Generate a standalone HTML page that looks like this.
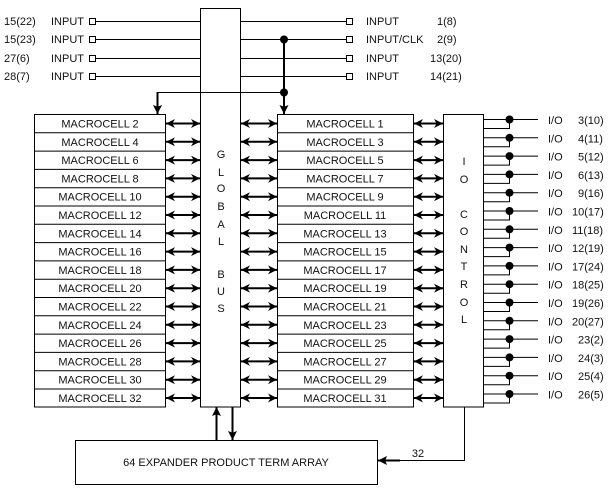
<!DOCTYPE html>
<html><head><meta charset="utf-8"><style>
html,body{margin:0;padding:0;background:#fff;}
svg{display:block;}
text{font-family:"Liberation Sans",sans-serif;font-size:11px;fill:#111;}
</style></head><body>
<svg width="611" height="489" viewBox="0 0 611 489" xmlns="http://www.w3.org/2000/svg">
<defs>
<marker id="ah" viewBox="0 0 10 10" refX="10" refY="5" markerWidth="12" markerHeight="9" markerUnits="userSpaceOnUse" orient="auto-start-reverse"><path d="M0,0 L10,5 L0,10 L3,5 z" fill="#000"/></marker>
<marker id="ad" viewBox="0 0 10 10" refX="10" refY="5" markerWidth="11" markerHeight="9" markerUnits="userSpaceOnUse" orient="auto"><path d="M0,0 L10,5 L0,10 L2,5 z" fill="#000"/></marker>
</defs>
<g stroke="#000" stroke-width="1" fill="none">
<rect x="200.5" y="8.5" width="40" height="398.5" fill="#fff"/>
<line x1="96" y1="21.5" x2="200" y2="21.5"/><line x1="96" y1="39.5" x2="200" y2="39.5"/>
<line x1="96" y1="58.5" x2="200" y2="58.5"/><line x1="96" y1="76.5" x2="200" y2="76.5"/>
<rect x="89.5" y="18.5" width="6" height="6"/><rect x="89.5" y="36.5" width="6" height="6"/>
<rect x="89.5" y="55.5" width="6" height="6"/><rect x="89.5" y="73.5" width="6" height="6"/>
<line x1="241" y1="21.5" x2="346" y2="21.5"/><line x1="241" y1="39.5" x2="346" y2="39.5"/>
<line x1="241" y1="58.5" x2="346" y2="58.5"/><line x1="241" y1="76.5" x2="346" y2="76.5"/>
<rect x="346.5" y="18.5" width="6" height="6"/><rect x="346.5" y="36.5" width="6" height="6"/>
<rect x="346.5" y="55.5" width="6" height="6"/><rect x="346.5" y="73.5" width="6" height="6"/>
<line x1="284" y1="39.5" x2="284" y2="114" stroke-width="2" marker-end="url(#ad)"/>
<line x1="157" y1="92.5" x2="284" y2="92.5"/>
<line x1="157.5" y1="92" x2="157.5" y2="114" stroke-width="2" marker-end="url(#ad)"/>
<rect x="34.5" y="114.5" width="131" height="292.5" fill="#fff"/>
<rect x="277.5" y="114.5" width="136" height="292.5" fill="#fff"/>
<path d="M34 132.8H166M34 151.1H166M34 169.4H166M34 187.7H166M34 206H166M34 224.3H166M34 242.6H166M34 260.9H166M34 279.2H166M34 297.5H166M34 315.8H166M34 334.1H166M34 352.4H166M34 370.7H166M34 389H166"/>
<path d="M277 132.8H414M277 151.1H414M277 169.4H414M277 187.7H414M277 206H414M277 224.3H414M277 242.6H414M277 260.9H414M277 279.2H414M277 297.5H414M277 315.8H414M277 334.1H414M277 352.4H414M277 370.7H414M277 389H414"/>
<rect x="443.5" y="114.5" width="40" height="292.5" fill="#fff"/>
<rect x="75.5" y="440.5" width="302" height="44" fill="#fff"/>
<line x1="216.5" y1="440" x2="216.5" y2="407" stroke-width="2" marker-end="url(#ad)"/>
<line x1="232.5" y1="407" x2="232.5" y2="440" stroke-width="2" marker-end="url(#ad)"/>
<path d="M464.5 407V460.5H380"/>
<line x1="400" y1="460.5" x2="378" y2="460.5" stroke-width="2" marker-end="url(#ad)"/>
</g>
<g stroke="#000" stroke-width="2" marker-start="url(#ah)" marker-end="url(#ah)">
<line x1="166" y1="123.5" x2="200" y2="123.5"/><line x1="241" y1="123.5" x2="277" y2="123.5"/><line x1="414" y1="123.5" x2="443" y2="123.5"/>
<line x1="166" y1="141.8" x2="200" y2="141.8"/><line x1="241" y1="141.8" x2="277" y2="141.8"/><line x1="414" y1="141.8" x2="443" y2="141.8"/>
<line x1="166" y1="160.1" x2="200" y2="160.1"/><line x1="241" y1="160.1" x2="277" y2="160.1"/><line x1="414" y1="160.1" x2="443" y2="160.1"/>
<line x1="166" y1="178.4" x2="200" y2="178.4"/><line x1="241" y1="178.4" x2="277" y2="178.4"/><line x1="414" y1="178.4" x2="443" y2="178.4"/>
<line x1="166" y1="196.7" x2="200" y2="196.7"/><line x1="241" y1="196.7" x2="277" y2="196.7"/><line x1="414" y1="196.7" x2="443" y2="196.7"/>
<line x1="166" y1="215" x2="200" y2="215"/><line x1="241" y1="215" x2="277" y2="215"/><line x1="414" y1="215" x2="443" y2="215"/>
<line x1="166" y1="233.3" x2="200" y2="233.3"/><line x1="241" y1="233.3" x2="277" y2="233.3"/><line x1="414" y1="233.3" x2="443" y2="233.3"/>
<line x1="166" y1="251.6" x2="200" y2="251.6"/><line x1="241" y1="251.6" x2="277" y2="251.6"/><line x1="414" y1="251.6" x2="443" y2="251.6"/>
<line x1="166" y1="269.9" x2="200" y2="269.9"/><line x1="241" y1="269.9" x2="277" y2="269.9"/><line x1="414" y1="269.9" x2="443" y2="269.9"/>
<line x1="166" y1="288.2" x2="200" y2="288.2"/><line x1="241" y1="288.2" x2="277" y2="288.2"/><line x1="414" y1="288.2" x2="443" y2="288.2"/>
<line x1="166" y1="306.5" x2="200" y2="306.5"/><line x1="241" y1="306.5" x2="277" y2="306.5"/><line x1="414" y1="306.5" x2="443" y2="306.5"/>
<line x1="166" y1="324.8" x2="200" y2="324.8"/><line x1="241" y1="324.8" x2="277" y2="324.8"/><line x1="414" y1="324.8" x2="443" y2="324.8"/>
<line x1="166" y1="343.1" x2="200" y2="343.1"/><line x1="241" y1="343.1" x2="277" y2="343.1"/><line x1="414" y1="343.1" x2="443" y2="343.1"/>
<line x1="166" y1="361.4" x2="200" y2="361.4"/><line x1="241" y1="361.4" x2="277" y2="361.4"/><line x1="414" y1="361.4" x2="443" y2="361.4"/>
<line x1="166" y1="379.7" x2="200" y2="379.7"/><line x1="241" y1="379.7" x2="277" y2="379.7"/><line x1="414" y1="379.7" x2="443" y2="379.7"/>
<line x1="166" y1="398" x2="200" y2="398"/><line x1="241" y1="398" x2="277" y2="398"/><line x1="414" y1="398" x2="443" y2="398"/>
</g>
<g stroke="#000" stroke-width="1" fill="none">
<path d="M483 119.5H538M483 128.5H509.5V119"/>
<path d="M483 137.8H538M483 146.8H509.5V137"/>
<path d="M483 156.1H538M483 165.1H509.5V156"/>
<path d="M483 174.4H538M483 183.4H509.5V174"/>
<path d="M483 192.7H538M483 201.7H509.5V192"/>
<path d="M483 211H538M483 220H509.5V211"/>
<path d="M483 229.3H538M483 238.3H509.5V229"/>
<path d="M483 247.6H538M483 256.6H509.5V247"/>
<path d="M483 265.9H538M483 274.9H509.5V265"/>
<path d="M483 284.2H538M483 293.2H509.5V284"/>
<path d="M483 302.5H538M483 311.5H509.5V302"/>
<path d="M483 320.8H538M483 329.8H509.5V320"/>
<path d="M483 339.1H538M483 348.1H509.5V339"/>
<path d="M483 357.4H538M483 366.4H509.5V357"/>
<path d="M483 375.7H538M483 384.7H509.5V375"/>
<path d="M483 394H538M483 403H509.5V394"/>
</g>
<g fill="#000">
<circle cx="284" cy="39.5" r="4"/><circle cx="284" cy="92.5" r="4"/>
<circle cx="509.5" cy="119.5" r="4"/><circle cx="509.5" cy="137.8" r="4"/><circle cx="509.5" cy="156.1" r="4"/><circle cx="509.5" cy="174.4" r="4"/>
<circle cx="509.5" cy="192.7" r="4"/><circle cx="509.5" cy="211" r="4"/><circle cx="509.5" cy="229.3" r="4"/><circle cx="509.5" cy="247.6" r="4"/>
<circle cx="509.5" cy="265.9" r="4"/><circle cx="509.5" cy="284.2" r="4"/><circle cx="509.5" cy="302.5" r="4"/><circle cx="509.5" cy="320.8" r="4"/>
<circle cx="509.5" cy="339.1" r="4"/><circle cx="509.5" cy="357.4" r="4"/><circle cx="509.5" cy="375.7" r="4"/><circle cx="509.5" cy="394" r="4"/>
</g>
<text x="4" y="25">15(22)</text><text x="51" y="25">INPUT</text>
<text x="4" y="43">15(23)</text><text x="51" y="43">INPUT</text>
<text x="4" y="62">27(6)</text><text x="51" y="62">INPUT</text>
<text x="4" y="80">28(7)</text><text x="51" y="80">INPUT</text>
<text x="366" y="25">INPUT</text><text x="437" y="25">1(8)</text>
<text x="366" y="43">INPUT/CLK</text><text x="437" y="43">2(9)</text>
<text x="366" y="62">INPUT</text><text x="430" y="62">13(20)</text>
<text x="366" y="80">INPUT</text><text x="430" y="80">14(21)</text>
<g text-anchor="middle">
<text x="100" y="127.5">MACROCELL 2</text><text x="345" y="127.5">MACROCELL 1</text>
<text x="100" y="145.8">MACROCELL 4</text><text x="345" y="145.8">MACROCELL 3</text>
<text x="100" y="164.1">MACROCELL 6</text><text x="345" y="164.1">MACROCELL 5</text>
<text x="100" y="182.4">MACROCELL 8</text><text x="345" y="182.4">MACROCELL 7</text>
<text x="100" y="200.7">MACROCELL 10</text><text x="345" y="200.7">MACROCELL 9</text>
<text x="100" y="219">MACROCELL 12</text><text x="345" y="219">MACROCELL 11</text>
<text x="100" y="237.3">MACROCELL 14</text><text x="345" y="237.3">MACROCELL 13</text>
<text x="100" y="255.6">MACROCELL 16</text><text x="345" y="255.6">MACROCELL 15</text>
<text x="100" y="273.9">MACROCELL 18</text><text x="345" y="273.9">MACROCELL 17</text>
<text x="100" y="292.2">MACROCELL 20</text><text x="345" y="292.2">MACROCELL 19</text>
<text x="100" y="310.5">MACROCELL 22</text><text x="345" y="310.5">MACROCELL 21</text>
<text x="100" y="328.8">MACROCELL 24</text><text x="345" y="328.8">MACROCELL 23</text>
<text x="100" y="347.1">MACROCELL 26</text><text x="345" y="347.1">MACROCELL 25</text>
<text x="100" y="365.4">MACROCELL 28</text><text x="345" y="365.4">MACROCELL 27</text>
<text x="100" y="383.7">MACROCELL 30</text><text x="345" y="383.7">MACROCELL 29</text>
<text x="100" y="402">MACROCELL 32</text><text x="345" y="402">MACROCELL 31</text>
<text x="221" y="158">G</text><text x="221" y="176">L</text><text x="221" y="192">O</text><text x="221" y="210">B</text><text x="221" y="228">A</text><text x="221" y="245">L</text>
<text x="221" y="278">B</text><text x="221" y="295">U</text><text x="221" y="312">S</text>
<text x="464" y="165">I</text><text x="464" y="183">O</text>
<text x="464" y="218">C</text><text x="464" y="235">O</text><text x="464" y="253">N</text><text x="464" y="270">T</text><text x="464" y="288">R</text><text x="464" y="306">O</text><text x="464" y="323">L</text>
<text x="226" y="466">64 EXPANDER PRODUCT TERM ARRAY</text>
<text x="418" y="457">32</text>
</g>
<g>
<text x="548" y="124">I/O</text><text x="578" y="124">3(10)</text>
<text x="548" y="142.3">I/O</text><text x="578" y="142.3">4(11)</text>
<text x="548" y="160.6">I/O</text><text x="578" y="160.6">5(12)</text>
<text x="548" y="178.9">I/O</text><text x="578" y="178.9">6(13)</text>
<text x="548" y="197.2">I/O</text><text x="578" y="197.2">9(16)</text>
<text x="548" y="215.5">I/O</text><text x="572" y="215.5">10(17)</text>
<text x="548" y="233.8">I/O</text><text x="572" y="233.8">11(18)</text>
<text x="548" y="252.1">I/O</text><text x="572" y="252.1">12(19)</text>
<text x="548" y="270.4">I/O</text><text x="572" y="270.4">17(24)</text>
<text x="548" y="288.7">I/O</text><text x="572" y="288.7">18(25)</text>
<text x="548" y="307">I/O</text><text x="572" y="307">19(26)</text>
<text x="548" y="325.3">I/O</text><text x="572" y="325.3">20(27)</text>
<text x="548" y="343.6">I/O</text><text x="578" y="343.6">23(2)</text>
<text x="548" y="361.9">I/O</text><text x="578" y="361.9">24(3)</text>
<text x="548" y="380.2">I/O</text><text x="578" y="380.2">25(4)</text>
<text x="548" y="398.5">I/O</text><text x="578" y="398.5">26(5)</text>
</g>
</svg>
</body></html>
